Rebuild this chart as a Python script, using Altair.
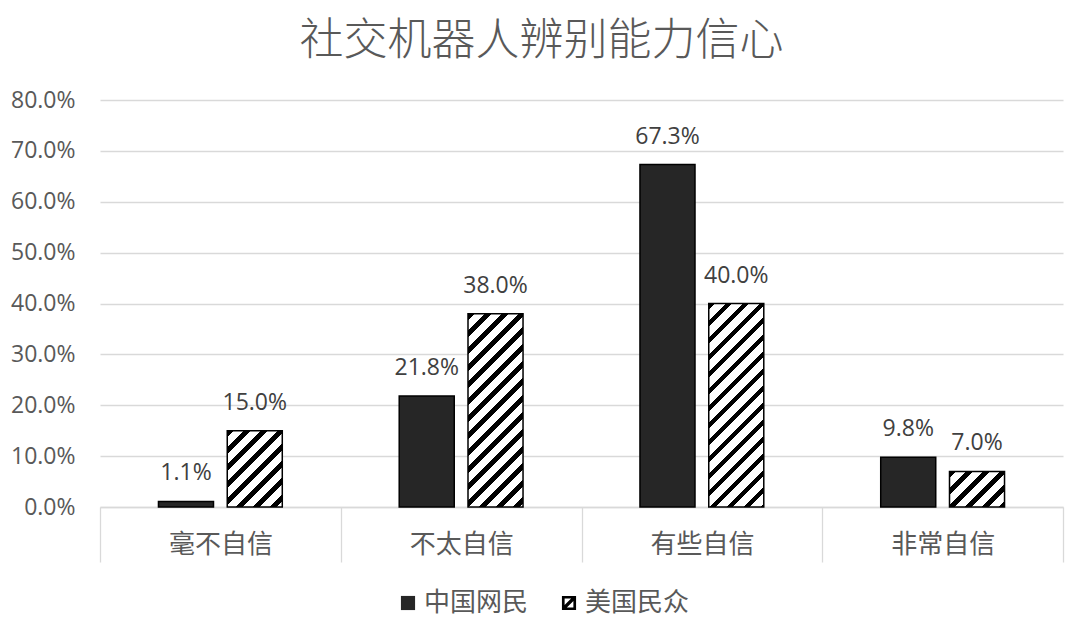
import altair as alt

# ---- data ----
categories = ["毫不自信", "不太自信", "有些自信", "非常自信"]
series = ["中国网民", "美国民众"]
china_pct = [1.1, 21.8, 67.3, 9.8]
usa_pct = [15.0, 38.0, 40.0, 7.0]
y_ticks = [0.0, 0.1, 0.2, 0.3, 0.4, 0.5, 0.6, 0.7, 0.8]

# ---- layout / style ----
PLOT_W, PLOT_H = 963, 407
Y_MAX = 0.8
OFF_PAD_INNER, OFF_PAD_OUTER = 0.2, 0.85
CJK = "Noto Sans CJK SC"
NUM = "Open Sans"
GRID = "#d9d9d9"
TXT = "#595959"
DARK = "#262626"

band = PLOT_W / len(categories)
step = band / (len(series) - OFF_PAD_INNER + 2 * OFF_PAD_OUTER)
BAR_W = step * (1 - OFF_PAD_INNER)

HATCH_PERIOD = 17.0
HATCH_BLACK = 6.5


def hatch_fill(frac):
    """Linear gradient with hard stops that renders 45-degree '/' stripes."""
    w = BAR_W
    h = frac / Y_MAX * PLOT_H
    total = w + h
    k = w * total / (w * w + h * h)
    stops = []
    i = 0
    while True:
        a = i * HATCH_PERIOD
        if a >= total:
            break
        b = a + HATCH_BLACK
        stops.append({"offset": a / total, "color": "#000000"})
        stops.append({"offset": min(b, total) / total, "color": "#000000"})
        if b < total:
            stops.append({"offset": b / total, "color": "#ffffff"})
            stops.append({"offset": min(a + HATCH_PERIOD, total) / total, "color": "#ffffff"})
        i += 1
    return {"gradient": "linear", "x1": 0, "y1": 0, "x2": k, "y2": k * h / w, "stops": stops}


HATCH_SYMBOL = ("M-1,-1L1,-1L1,1L-1,1Z"
                "M-0.62,-0.62L-0.62,0.3L0.3,-0.62Z"
                "M0.62,0.62L0.62,-0.3L-0.3,0.62Z")

records = []
for i, c in enumerate(categories):
    records.append({"category": c, "series": series[0], "value": china_pct[i] / 100, "fill": DARK})
    records.append({"category": c, "series": series[1], "value": usa_pct[i] / 100,
                    "fill": hatch_fill(usa_pct[i] / 100)})

base = alt.Chart(alt.Data(values=records)).encode(
    x=alt.X("category:N", sort=categories, title=None,
            scale=alt.Scale(paddingInner=0, paddingOuter=0),
            axis=alt.Axis(tickBand="extent", ticks=True, tickSize=55, tickColor=GRID, tickWidth=1.3,
                          domainColor=GRID, domainWidth=1.3, grid=False, labelAngle=0,
                          labelFont=CJK, labelFontSize=26, labelColor=TXT,
                          labelBaseline="middle", labelPadding=-18)),
    xOffset=alt.XOffset("series:N", sort=series,
                        scale=alt.Scale(paddingInner=OFF_PAD_INNER, paddingOuter=OFF_PAD_OUTER)),
    y=alt.Y("value:Q", stack=None, title=None,
            scale=alt.Scale(domain=[0, Y_MAX], nice=False),
            axis=alt.Axis(values=y_ticks, format=".1%", domain=False, ticks=False, grid=True,
                          gridColor=GRID, gridWidth=1.3, labelFont=NUM, labelFontSize=23,
                          labelColor=TXT, labelPadding=25)),
)

bars = base.mark_bar(stroke="black", strokeWidth=1.5).encode(
    fill=alt.Fill("fill:N", scale=None, legend=None)
)

labels = base.mark_text(baseline="alphabetic", dy=-21, font=NUM, fontSize=23, color="#404040").encode(
    text=alt.Text("value:Q", format=".1%")
)

leg = dict(title=None, orient="none", legendX=295, legendY=490, direction="horizontal",
           symbolSize=200, symbolStrokeColor="black", symbolStrokeWidth=1, symbolOpacity=1,
           labelFont=CJK, labelFontSize=26, labelColor=TXT, labelOffset=3,
           columnPadding=27, padding=0)

legend_layer = base.mark_point(filled=True, opacity=0).encode(
    color=alt.Color("series:N", sort=series,
                    scale=alt.Scale(domain=series, range=[DARK, "#000000"]),
                    legend=alt.Legend(**leg)),
    shape=alt.Shape("series:N", sort=series,
                    scale=alt.Scale(domain=series, range=["square", HATCH_SYMBOL]),
                    legend=alt.Legend(**leg)),
)

chart = alt.layer(bars, labels, legend_layer).properties(
    width=PLOT_W, height=PLOT_H,
    title=alt.TitleParams("社交机器人辨别能力信心", font=CJK, fontSize=44, fontWeight=300,
                          color=TXT, anchor="middle", dx=-40, offset=25),
    autosize=alt.AutoSizeParams(type="none"),
    padding={"left": 92, "top": 92, "right": 9, "bottom": 116},
).configure_view(stroke=None)

chart.save("out.html", embed_options={"renderer": "svg", "actions": False})
